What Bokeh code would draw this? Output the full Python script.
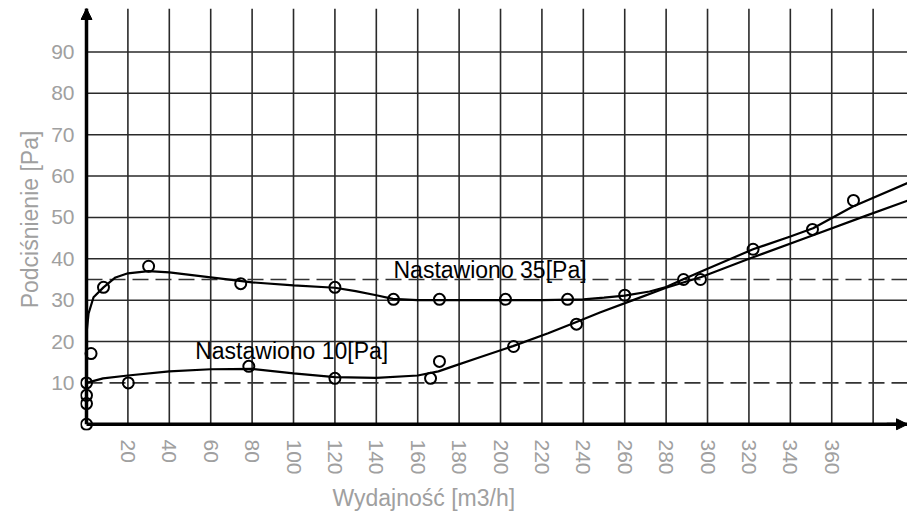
from bokeh.plotting import figure
from bokeh.models import FixedTicker, Label, Arrow, NormalHead, Title
from bokeh.embed import file_html
from bokeh.resources import INLINE

# ---- data ----
x_ticks = [20, 40, 60, 80, 100, 120, 140, 160, 180, 200, 220, 240, 260, 280, 300, 320, 340, 360]
x_grid = x_ticks + [380]
y_ticks = [10, 20, 30, 40, 50, 60, 70, 80, 90]
y_grid = [20, 30, 40, 50, 60, 70, 80, 90]

# measured points, setting 35 Pa
pts35_x = [2.2, 8.2, 30, 74.5, 120, 148.3, 170.5, 202.4, 232.4, 260, 288.4, 296.6, 322, 350.7, 370.5]
pts35_y = [17.1, 33.1, 38.2, 34.0, 33.1, 30.2, 30.2, 30.2, 30.2, 31.2, 35.0, 35.0, 42.3, 47.1, 54.1]

# measured points, setting 10 Pa
pts10_x = [0, 0, 0, 0, 20.2, 78.4, 120, 166.2, 170.5, 206.3, 236.7]
pts10_y = [0, 5, 7, 10, 10, 14, 11.1, 11.1, 15.2, 18.8, 24.2]

# fitted curve, setting 35 Pa (traced)
curve35_x = [0, 1, 3.4, 8.2, 14, 20, 30, 40, 60, 80, 100, 120, 130, 140, 148, 160, 180, 200, 220,
             240, 250, 260, 272, 280, 288, 300, 322, 340, 351, 370, 397]
curve35_y = [22, 26.8, 30.7, 33.1, 35.5, 36.5, 37, 36.7, 35.5, 34.3, 33.6, 33, 32.2, 31.2, 30.3, 30,
             30, 30, 30, 30.2, 30.6, 31.1, 32.1, 33.2, 35, 37.6, 42.3, 45.4, 47.4, 52.6, 58.4]

# fitted curve, setting 10 Pa (traced)
curve10_x = [0, 8, 20, 40, 60, 80, 100, 120, 140, 160, 170, 177, 190, 206, 223, 237, 248, 265,
             280, 297, 321, 350, 377, 397]
curve10_y = [10, 11.1, 11.8, 12.8, 13.3, 13.4, 12.3, 11.4, 11.2, 11.8, 12.8, 14.0, 16.2, 18.9,
             22.0, 24.8, 27.0, 30.2, 33.0, 35.6, 40.2, 45.5, 50.5, 54.1]

set_levels = [35, 10]

X_MIN, X_MAX = -2.9, 396.6
Y_MIN, Y_MAX = -1.5, 100.5

TICK_GRAY = "#a0a0a0"
FONT = "Liberation Sans"

p = figure(width=907, height=517, x_range=(X_MIN, X_MAX), y_range=(Y_MIN, Y_MAX),
           output_backend="svg", toolbar_location=None,
           min_border_left=80, min_border_right=0, min_border_top=8, min_border_bottom=87)
p.outline_line_color = None
p.background_fill_color = "white"
p.xgrid.visible = False
p.ygrid.visible = False

# grid lines (drawn from the tick lists, bounded by the axes)
GRID = "#2a2a2a"
p.segment(x0=x_grid, x1=x_grid, y0=[0] * len(x_grid), y1=[Y_MAX] * len(x_grid),
          line_color=GRID, line_width=1.6)
p.segment(x0=[0] * len(y_grid), x1=[X_MAX] * len(y_grid), y0=y_grid, y1=y_grid,
          line_color=GRID, line_width=1.6)

# dashed set-point lines
p.segment(x0=[0] * len(set_levels), x1=[X_MAX] * len(set_levels), y0=set_levels, y1=set_levels,
          line_color="#333333", line_width=1.6, line_dash="16 7")

# axis lines at data zero
p.segment(x0=[0, 0], x1=[0, X_MAX], y0=[0, 0], y1=[Y_MAX, 0],
          line_color="black", line_width=3.5)

# axes (labels only)
p.xaxis.ticker = FixedTicker(ticks=x_ticks)
p.yaxis.ticker = FixedTicker(ticks=y_ticks)
for ax in (p.xaxis, p.yaxis):
    ax.axis_line_color = None
    ax.major_tick_line_color = None
    ax.minor_tick_line_color = None
    ax.major_label_text_color = TICK_GRAY
    ax.major_label_text_font = FONT
    ax.major_label_text_font_size = "21px"
p.xaxis.major_label_orientation = "vertical"
p.xaxis.major_label_standoff = 3
p.yaxis.major_label_standoff = 0
p.yaxis.axis_label = "Podciśnienie [Pa]"
p.yaxis.axis_label_text_font = FONT
p.yaxis.axis_label_text_font_size = "23px"
p.yaxis.axis_label_text_font_style = "normal"
p.yaxis.axis_label_text_color = TICK_GRAY
p.yaxis.axis_label_standoff = 5

p.add_layout(Title(text="Wydajność [m3/h]", align="left", offset=252, text_font=FONT,
                   text_font_size="23px", text_font_style="normal", text_color=TICK_GRAY,
                   standoff=10), "below")

# curves
p.line(curve35_x, curve35_y, line_color="black", line_width=2.2)
p.line(curve10_x, curve10_y, line_color="black", line_width=2.2)

# points
p.scatter(pts35_x, pts35_y, marker="circle", size=11, fill_color=None,
          line_color="black", line_width=2)
p.scatter(pts10_x, pts10_y, marker="circle", size=11, fill_color=None,
          line_color="black", line_width=2)

# annotations
p.add_layout(Label(x=148.3, y=37.4, text="Nastawiono 35[Pa]", text_align="left",
                   text_baseline="alphabetic", text_font=FONT, text_font_size="23px",
                   text_color="black"))
p.add_layout(Label(x=52.5, y=17.6, text="Nastawiono 10[Pa]", text_align="left",
                   text_baseline="alphabetic", text_font=FONT, text_font_size="23px",
                   text_color="black"))

# axis arrows
p.add_layout(Arrow(end=NormalHead(size=11, fill_color="black", line_color="black"),
                   x_start=0, y_start=Y_MAX - 8, x_end=0, y_end=Y_MAX,
                   line_width=3, line_color="black"))
p.add_layout(Arrow(end=NormalHead(size=11, fill_color="black", line_color="black"),
                   x_start=X_MAX - 10, y_start=0, x_end=X_MAX, y_end=0,
                   line_width=3, line_color="black"))

open("out.html", "w").write(file_html(p, INLINE))
